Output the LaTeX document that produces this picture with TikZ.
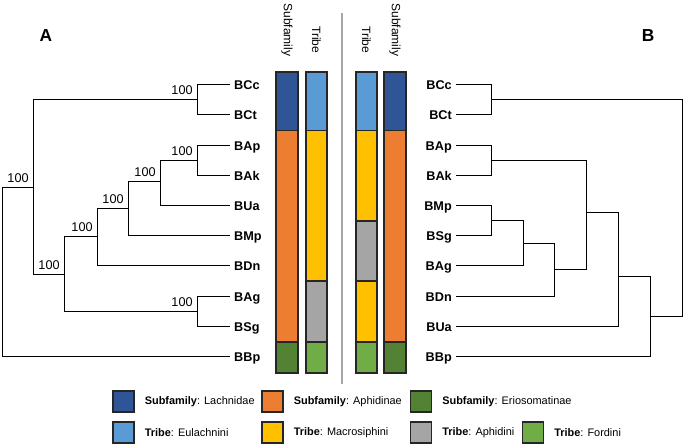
\documentclass[tikz,border=0pt]{standalone}
\usepackage{fontspec}
\setmainfont{Liberation Sans}
\usetikzlibrary{positioning}

\begin{document}
\begin{tikzpicture}[x=0.75pt,y=-0.75pt,line width=1.35pt,
  taxon/.style={font=\fontsize{9.5}{11}\selectfont\bfseries,inner sep=2.5pt,
    text height=0.9em,text depth=0.18em},
  support/.style={font=\fontsize{9.5}{11}\selectfont,anchor=south east,inner sep=3pt},
  rank/.style={font=\fontsize{9}{11}\selectfont,rotate=-90,anchor=east,inner sep=0pt},
  band/.style={draw=black!85,line width=1.1pt},
  key/.style={draw=black!85,line width=1.1pt,minimum size=15.5pt,inner sep=0pt},
  keytext/.style={font=\fontsize{8.2}{10}\selectfont,inner sep=0pt}]
\definecolor{lachnidae}{RGB}{47,85,151}
\definecolor{aphidinae}{RGB}{237,125,49}
\definecolor{eriosomatinae}{RGB}{84,130,53}
\definecolor{eulachnini}{RGB}{91,155,213}
\definecolor{macrosiphini}{RGB}{255,192,0}
\definecolor{aphidini}{RGB}{165,165,165}
\definecolor{fordini}{RGB}{112,173,71}
\definecolor{divider}{RGB}{166,166,166}

\useasboundingbox (0,0) rectangle (685,445);

% Taxa of both trees.
\foreach \name/\y in {BCc/84.5,BCt/114.5,BAp/145.5,BAk/175.5,BUa/205.5,
    BMp/235.5,BDn/265.5,BAg/296.5,BSg/326.5,BBp/356.5}
  \node[taxon,anchor=west] (l\name) at (230,\y) {\name};
\foreach \name/\y in {BCc/84.5,BCt/114.5,BAp/145.5,BAk/175.5,BMp/205.5,
    BSg/235.5,BAg/265.5,BDn/296.5,BUa/326.5,BBp/356.5}
  \node[taxon,anchor=east] (r\name) at (456,\y) {\name};

% Left tree (A).
\coordinate (lCC) at (197.5,99.5);
\coordinate (lAA) at (197.5,160.5);
\coordinate (lGS) at (197.5,311.5);
\coordinate (lUa) at (160.5,181.5);
\coordinate (lMp) at (128.5,208.5);
\coordinate (lDn) at (97.5,236.5);
\coordinate (lIn) at (64.5,274.5);
\coordinate (lTop) at (33.5,187.5);
\coordinate (lRoot) at (2.5,272.5);

\draw (lBCc.west) -| (lCC) |- (lBCt.west);
\draw (lBAp.west) -| (lAA) |- (lBAk.west);
\draw (lBAg.west) -| (lGS) |- (lBSg.west);
\draw (lAA) -| (lUa) |- (lBUa.west);
\draw (lUa) -| (lMp) |- (lBMp.west);
\draw (lMp) -| (lDn) |- (lBDn.west);
\draw (lDn) -| (lIn) |- (lGS);
\draw (lCC) -| (lTop) |- (lIn);
\draw (lTop) -| (lRoot) |- (lBBp.west);

\foreach \n in {lCC,lAA,lGS,lUa,lMp,lDn,lIn,lTop}
  \node[support] (s\n) at (\n) {100};

% Right tree (B).
\coordinate (rCC) at (491.5,99.5);
\coordinate (rAA) at (491.5,160.5);
\coordinate (rMS) at (491.5,220.5);
\coordinate (rAg) at (523.5,243.5);
\coordinate (rDn) at (554.5,269.5);
\coordinate (rAk) at (586.5,212.5);
\coordinate (rUa) at (618.5,276.5);
\coordinate (rBp) at (650.5,316.5);
\coordinate (rRoot) at (682.5,208.5);

\begin{scope}[line width=1.2pt]
\draw (rBCc.east) -| (rCC) |- (rBCt.east);
\draw (rBAp.east) -| (rAA) |- (rBAk.east);
\draw (rBMp.east) -| (rMS) |- (rBSg.east);
\draw (rMS) -| (rAg) |- (rBAg.east);
\draw (rAg) -| (rDn) |- (rBDn.east);
\draw (rAA) -| (rAk) |- (rDn);
\draw (rAk) -| (rUa) |- (rBUa.east);
\draw (rUa) -| (rBp) |- (rBBp.east);
\draw (rCC) -| (rRoot) |- (rBp);
\end{scope}

% Classification bars.
\draw[band,fill=lachnidae] (276,72) rectangle (298,130.5);
\draw[band,fill=aphidinae] (276,130.5) rectangle (298,342);
\draw[band,fill=eriosomatinae] (276,342) rectangle (298,373);
\draw[band,fill=eulachnini] (306,72) rectangle (327,130.5);
\draw[band,fill=macrosiphini] (306,130.5) rectangle (327,281);
\draw[band,fill=aphidini] (306,281) rectangle (327,342);
\draw[band,fill=fordini] (306,342) rectangle (327,373);

\draw[band,fill=eulachnini] (356,72) rectangle (377,130.5);
\draw[band,fill=macrosiphini] (356,130.5) rectangle (377,221);
\draw[band,fill=aphidini] (356,221) rectangle (377,281);
\draw[band,fill=macrosiphini] (356,281) rectangle (377,342);
\draw[band,fill=fordini] (356,342) rectangle (377,373);
\draw[band,fill=lachnidae] (384,72) rectangle (406,130.5);
\draw[band,fill=aphidinae] (384,130.5) rectangle (406,342);
\draw[band,fill=eriosomatinae] (384,342) rectangle (406,373);

\draw[divider,line width=1.1pt] (342,13) -- (342,384);

\node[rank] (hSubL) at (287,57) {Subfamily};
\node[rank] (hTribeL) at (316.5,54) {Tribe};
\node[rank] (hTribeR) at (366.5,54) {Tribe};
\node[rank] (hSubR) at (395,57) {Subfamily};

\node[font=\fontsize{13}{15}\selectfont\bfseries] (pA) at (46,36) {A};
\node[font=\fontsize{13}{15}\selectfont\bfseries] (pB) at (648,36) {B};

% Legend.
\node[key,fill=lachnidae] (kLach) at (123.5,401.5) {};
\node[key,fill=aphidinae] (kAphi) at (272.5,401.5) {};
\node[key,fill=eriosomatinae] (kErio) at (421,401.5) {};
\node[key,fill=eulachnini] (kEula) at (123.5,432.5) {};
\node[key,fill=macrosiphini] (kMacr) at (272.5,432.5) {};
\node[key,fill=aphidini] (kAphd) at (421,432.5) {};
\node[key,fill=fordini] (kFord) at (533,432.5) {};

\node[keytext,right=7pt of kLach] (tLach) {\textbf{Subfamily}: Lachnidae};
\node[keytext,right=7pt of kAphi] (tAphi) {\textbf{Subfamily}: Aphidinae};
\node[keytext,right=7pt of kErio] (tErio) {\textbf{Subfamily}: Eriosomatinae};
\node[keytext,right=7pt of kEula] (tEula) {\textbf{Tribe}: Eulachnini};
\node[keytext,right=7pt of kMacr] (tMacr) {\textbf{Tribe}: Macrosiphini};
\node[keytext,right=7pt of kAphd] (tAphd) {\textbf{Tribe}: Aphidini};
\node[keytext,right=7pt of kFord] (tFord) {\textbf{Tribe}: Fordini};
\end{tikzpicture}
\end{document}
